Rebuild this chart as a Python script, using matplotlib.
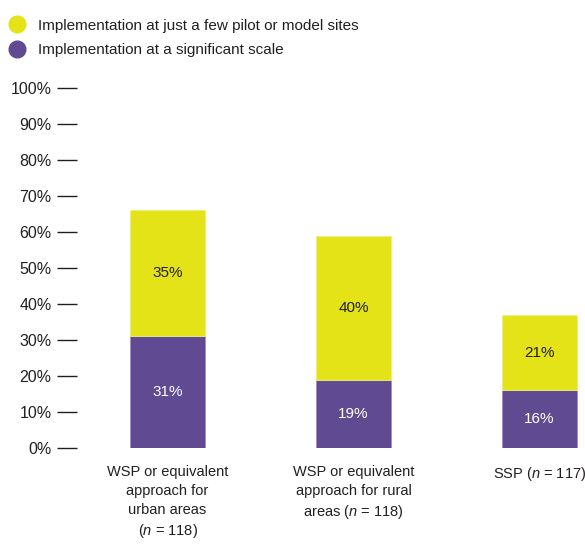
import numpy as np
import matplotlib
matplotlib.use("Agg")
from matplotlib import pyplot as plt
from matplotlib.lines import Line2D

plt.rcParams['font.family'] = ['Liberation Sans', 'DejaVu Sans']
plt.rcParams['mathtext.fontset'] = 'custom'
plt.rcParams['mathtext.it'] = 'Liberation Sans:italic'
plt.rcParams['mathtext.rm'] = 'Liberation Sans'

categories = ["WSP or equivalent\napproach for\nurban areas\n($n$ = 118)",
              "WSP or equivalent\napproach for rural\nareas ($n$ = 118)",
              "SSP ($n$ = 117)"]
significant = [31, 19, 16]
pilot = [35, 40, 21]
series_names = ["Implementation at just a few pilot or model sites",
                "Implementation at a significant scale"]
yticks = [0, 10, 20, 30, 40, 50, 60, 70, 80, 90, 100]

yellow = "#E3E317"
purple = "#604A91"
txt = "#231F20"

fig = plt.figure(figsize=(5.85, 5.44), dpi=100)
ax = fig.add_axes([77/585, 96/544, 1 - 77/585, 360/544])

x = np.arange(len(categories))
w = 0.403
ax.bar(x, significant, width=w, color=purple, edgecolor="#9C8CC4", linewidth=0.6)
ax.bar(x, pilot, width=w, bottom=significant, color=yellow, edgecolor="#EFEF80", linewidth=0.6)

for i in range(len(x)):
    ax.text(x[i], significant[i] / 2, "%d%%" % significant[i], ha="center", va="center",
            color="white", fontsize=11)
    ax.text(x[i], significant[i] + pilot[i] / 2, "%d%%" % pilot[i], ha="center", va="center",
            color=txt, fontsize=11)

ax.set_xlim(-0.487, 2.245)
ax.set_ylim(0, 100)
ax.set_yticks(yticks)
ax.set_yticklabels(["%d%%" % v for v in yticks], fontsize=11.5, color=txt)
ax.tick_params(axis="y", length=14.4, width=1.0, color=txt, pad=4)
ax.set_xticks(x)
ax.set_xticklabels(categories, fontsize=10.5, color=txt, linespacing=1.45, va="top")
ax.tick_params(axis="x", length=0, pad=12)
for s in ax.spines.values():
    s.set_visible(False)

handles = [Line2D([], [], marker="o", linestyle="", markersize=12, color=yellow),
           Line2D([], [], marker="o", linestyle="", markersize=12, color=purple)]
fig.legend(handles, series_names, loc="upper left", bbox_to_anchor=(-0.008, 0.994),
           frameon=False, fontsize=11, handletextpad=0.9, handlelength=0.9,
           labelspacing=0.7, borderaxespad=0.6, labelcolor=txt)

fig.savefig("out.png", dpi=100)
